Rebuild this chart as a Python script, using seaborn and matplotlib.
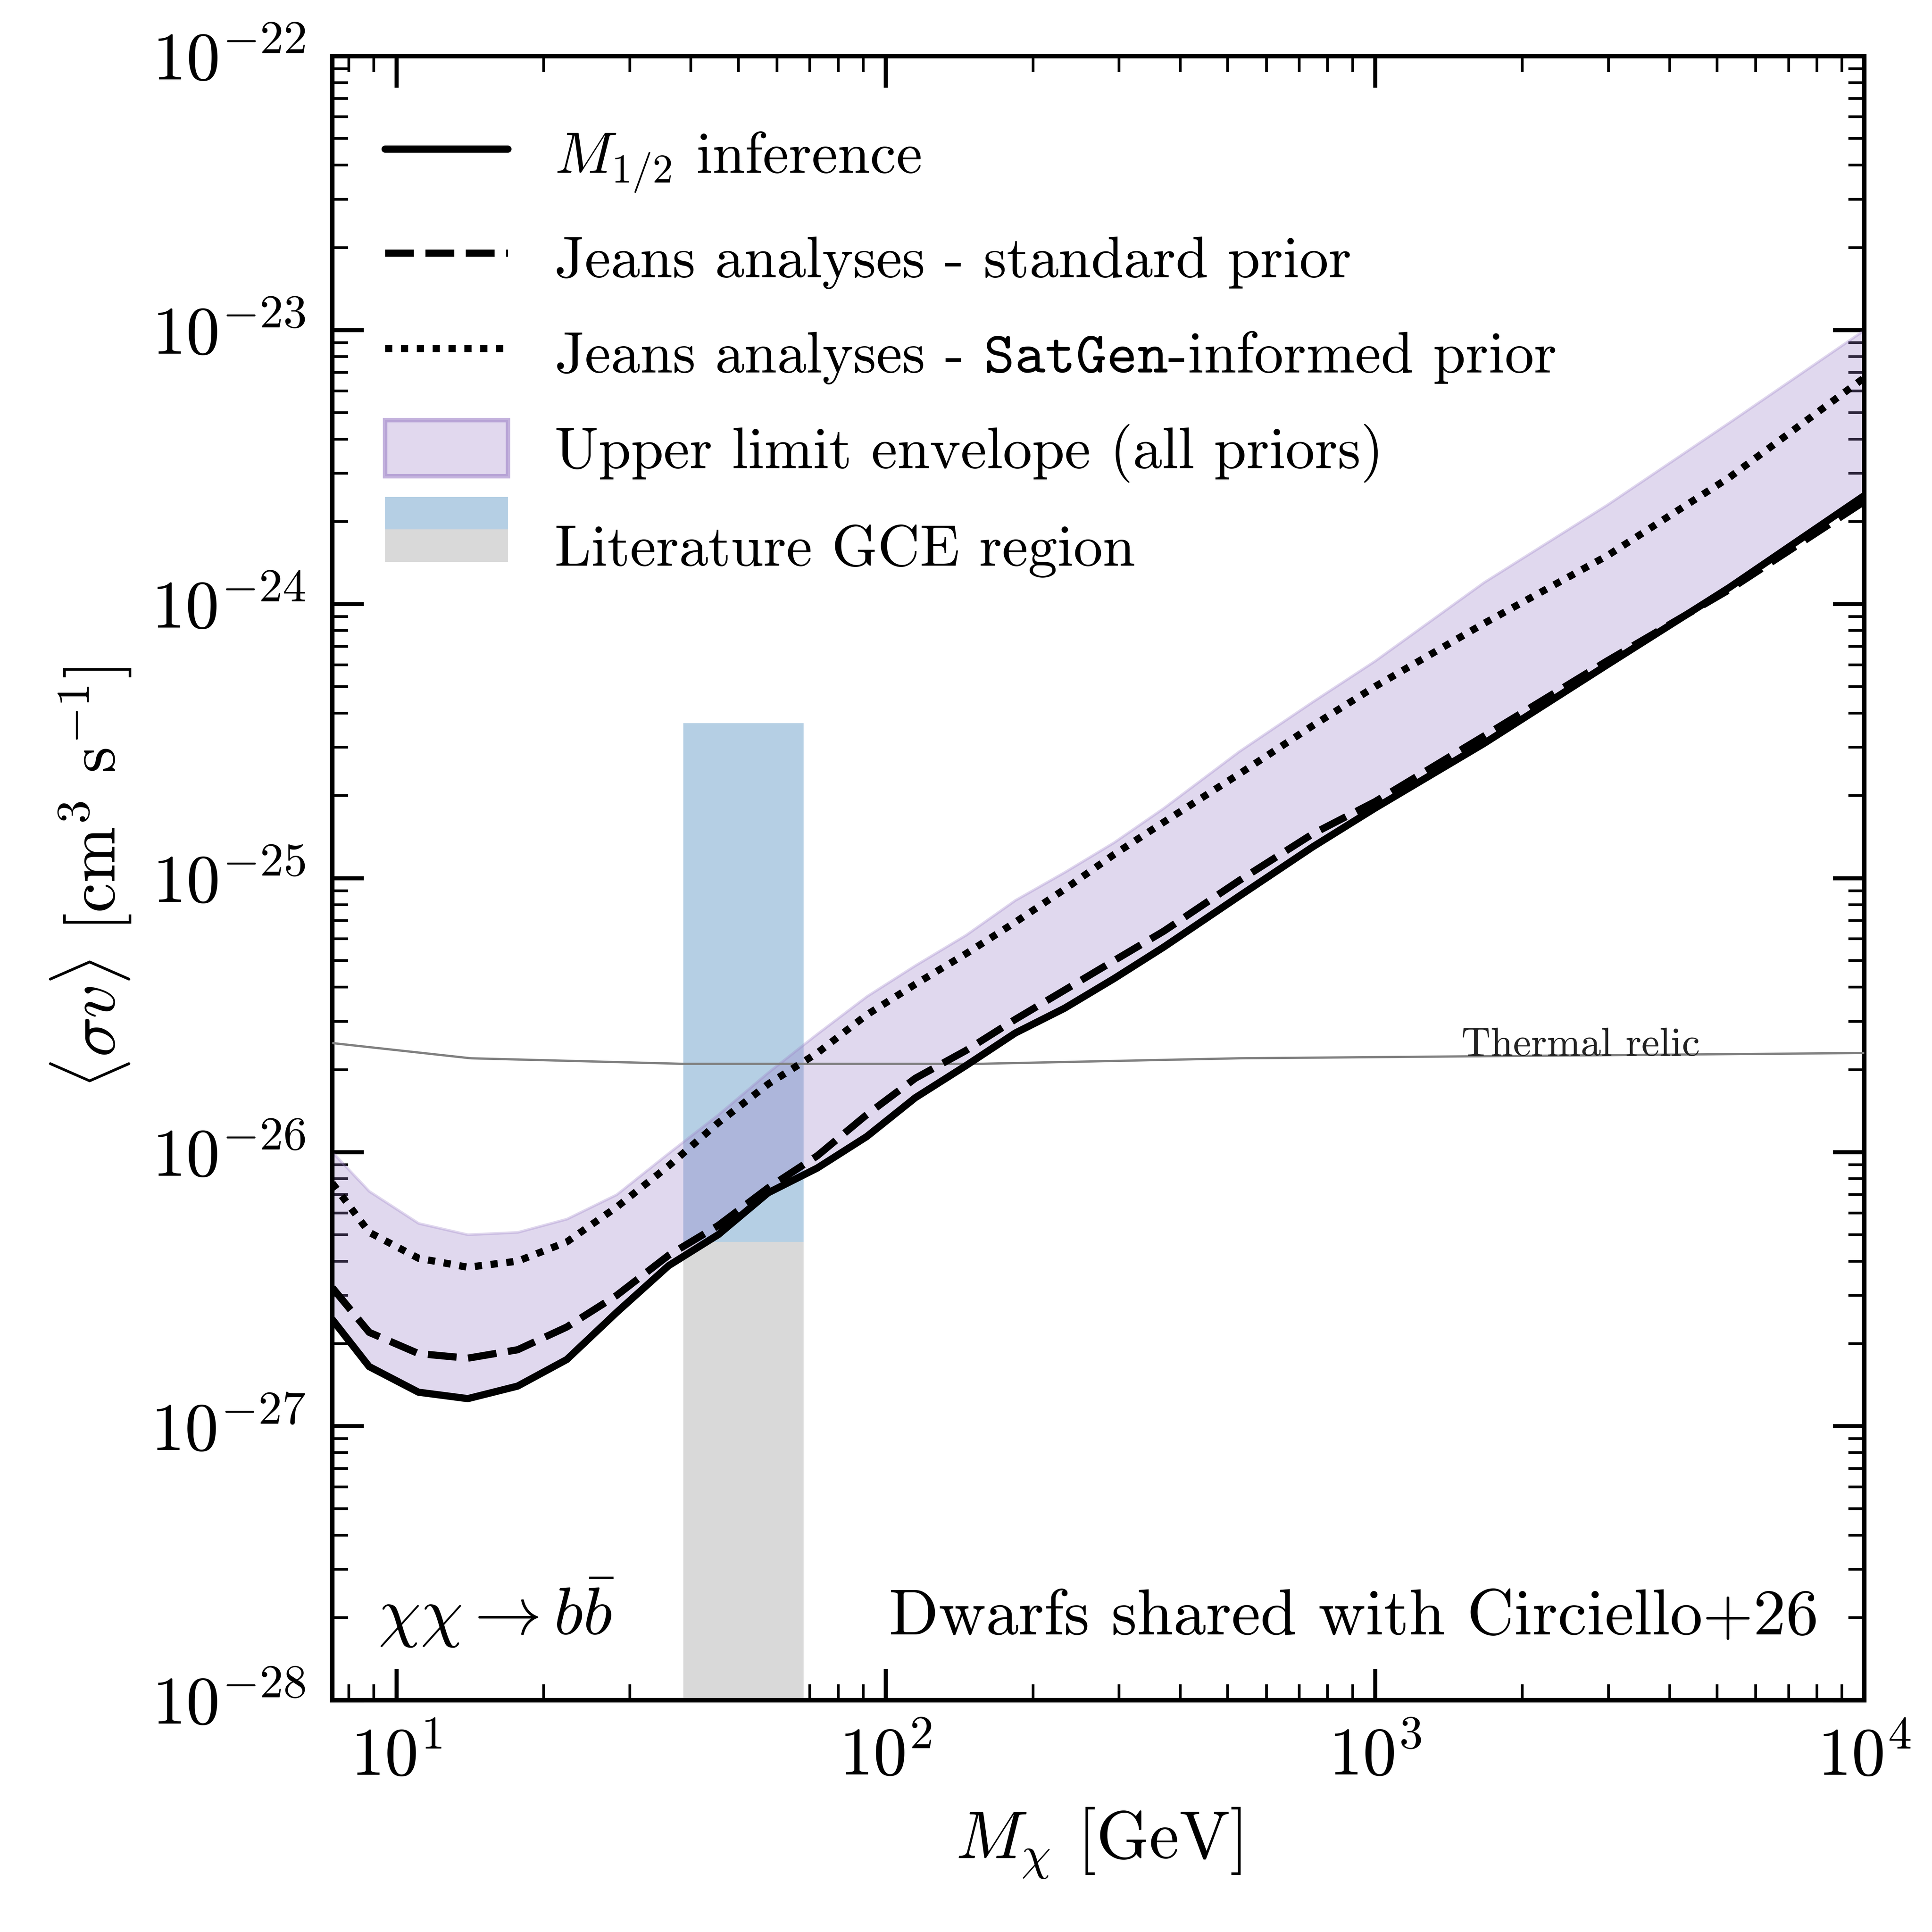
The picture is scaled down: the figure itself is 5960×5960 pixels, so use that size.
import numpy as np
import pandas as pd
import matplotlib
matplotlib.use("Agg")
import matplotlib.pyplot as plt
import matplotlib.patches as mpatches
from matplotlib.legend_handler import HandlerBase
import seaborn as sns

# masses [GeV]
mass = [7.4, 8.8, 11.1, 14.0, 17.7, 22.3, 28.2, 36.0, 45.5, 57.5, 72.5, 91.5,
        115, 146, 184, 232, 293, 370, 528, 746, 1000, 1670, 2980, 5300, 10000]
sv_m12 = [2.45e-27, 1.65e-27, 1.33e-27, 1.26e-27, 1.40e-27, 1.75e-27, 2.6e-27, 3.85e-27,
          5.0e-27, 7.1e-27, 8.75e-27, 1.14e-26, 1.58e-26, 2.07e-26, 2.72e-26, 3.35e-26,
          4.3e-26, 5.6e-26, 8.6e-26, 1.3e-25, 1.8e-25, 3.1e-25, 6.0e-25, 1.15e-24, 2.49e-24]
sv_std = [3.2e-27, 2.2e-27, 1.84e-27, 1.77e-27, 1.9e-27, 2.3e-27, 3.0e-27, 4.2e-27,
          5.4e-27, 7.4e-27, 9.7e-27, 1.37e-26, 1.86e-26, 2.35e-26, 3.05e-26, 3.9e-26,
          5.0e-26, 6.4e-26, 9.8e-26, 1.45e-25, 1.9e-25, 3.3e-25, 6.2e-25, 1.13e-24, 2.37e-24]
sv_satgen = [7.7e-27, 5.1e-27, 4.1e-27, 3.8e-27, 4.0e-27, 4.7e-27, 6.3e-27, 8.9e-27,
             1.28e-26, 1.77e-26, 2.3e-26, 3.17e-26, 4.1e-26, 5.3e-26, 6.9e-26, 9.1e-26,
             1.22e-25, 1.6e-25, 2.4e-25, 3.6e-25, 5.0e-25, 8.5e-25, 1.5e-24, 2.9e-24, 6.7e-24]
env_hi = [1.0e-26, 7.2e-27, 5.5e-27, 5.0e-27, 5.1e-27, 5.7e-27, 7.0e-27, 9.9e-27,
          1.37e-26, 1.95e-26, 2.7e-26, 3.7e-26, 4.8e-26, 6.2e-26, 8.3e-26, 1.05e-25,
          1.35e-25, 1.8e-25, 2.9e-25, 4.4e-25, 6.2e-25, 1.2e-24, 2.3e-24, 4.6e-24, 1.0e-23]

relic_mass = [7.4, 14.2, 38.5, 155, 528, 10000]
relic_sv = [2.5e-26, 2.2e-26, 2.1e-26, 2.1e-26, 2.2e-26, 2.3e-26]

gce_mass = [38.6, 68.0]
gce_sv = [4.7e-27, 3.67e-25]

sns.set_style("ticks")
plt.rcParams.update({
    "font.family": "serif",
    "font.serif": ["cmr10", "DejaVu Serif"],
    "mathtext.fontset": "cm",
    "axes.formatter.use_mathtext": True,
    "axes.unicode_minus": False,
    "text.color": "black", "axes.labelcolor": "black",
    "xtick.color": "black", "ytick.color": "black", "axes.edgecolor": "black",
    "xtick.direction": "in", "ytick.direction": "in",
    "xtick.top": True, "ytick.right": True,
    "xtick.minor.visible": True, "ytick.minor.visible": True,
})

fig = plt.figure(figsize=(5.96, 5.96), dpi=1000)
ax = fig.add_axes([0.172, 0.12, 0.793, 0.851])

df = pd.DataFrame({"mass": mass, "m12": sv_m12, "std": sv_std, "sat": sv_satgen, "hi": env_hi})

ax.fill_betweenx(gce_sv, gce_mass[0], gce_mass[1], color="#9dbfdc", alpha=0.75, lw=0, zorder=1)
ax.fill_betweenx([1e-28, gce_sv[0]], gce_mass[0], gce_mass[1], color="#d9d9d9", lw=0, zorder=1)
ax.fill_between(df["mass"], df["m12"], df["hi"], facecolor="#9b7fc7", alpha=0.3,
                edgecolor="#9b7fc7", lw=0.6, zorder=2)

sns.lineplot(data=df, x="mass", y="m12", ax=ax, color="black", lw=1.6, zorder=4)
sns.lineplot(data=df, x="mass", y="std", ax=ax, color="black", lw=1.6, ls=(0, (4, 1.6)), zorder=4)
sns.lineplot(data=df, x="mass", y="sat", ax=ax, color="black", lw=1.6, ls=(0, (1, 1.2)), zorder=4)
sns.lineplot(x=relic_mass, y=relic_sv, ax=ax, color="gray", lw=0.5, zorder=3)

ax.set_xscale("log")
ax.set_yscale("log")
ax.set_xlim(7.4, 1e4)
ax.set_ylim(1e-28, 1e-22)
ax.set_xlabel(r"$M_\chi$ [GeV]", fontsize=15)
ax.set_ylabel(r"$\langle\sigma v\rangle$ [cm$^3$ s$^{-1}$]", fontsize=15)
ax.tick_params(which="major", length=7, width=0.9, labelsize=15, pad=6)
ax.tick_params(which="minor", length=3.5, width=0.6)
for s in ax.spines.values():
    s.set_linewidth(1.0)

ax.text(1500, 2.45e-26, "Thermal relic", fontsize=9, color="#222222", va="center")
ax.text(0.03, 0.04, r"$\chi\chi \rightarrow b\bar{b}$", transform=ax.transAxes, fontsize=15)
ax.text(0.97, 0.04, "Dwarfs shared with Circiello+26", transform=ax.transAxes,
        fontsize=14.5, ha="right")


class HandlerGCE(HandlerBase):
    def create_artists(self, legend, orig, x0, y0, w, h, fontsize, trans):
        top = mpatches.Rectangle((x0, y0 + h / 2), w, h / 2 + 1, color="#9dbfdc", alpha=0.75,
                                 lw=0, transform=trans)
        bot = mpatches.Rectangle((x0, y0 - 1), w, h / 2 + 1, color="#d9d9d9", lw=0, transform=trans)
        return [top, bot]


h1 = plt.Line2D([], [], color="black", lw=1.6)
h2 = plt.Line2D([], [], color="black", lw=1.6, ls=(0, (4, 1.6)))
h3 = plt.Line2D([], [], color="black", lw=1.6, ls=(0, (1, 1.2)))
h4 = mpatches.Patch(facecolor=(0.61, 0.5, 0.78, 0.3), edgecolor=(0.61, 0.5, 0.78, 0.6))
h5 = mpatches.Patch()
ax.legend([h1, h2, h3, h4, h5],
          [r"$M_{1/2}$ inference", "Jeans analyses - standard prior",
           r"Jeans analyses - $\mathtt{SatGen}$-informed prior",
           "Upper limit envelope (all priors)", "Literature GCE region"],
          handler_map={h5: HandlerGCE()}, loc="upper left", frameon=False,
          fontsize=13, handlelength=2.1, handleheight=1.1, labelspacing=0.6,
          handletextpad=0.8, bbox_to_anchor=(0.0, 0.99))

fig.savefig("out.png", dpi=1000)
